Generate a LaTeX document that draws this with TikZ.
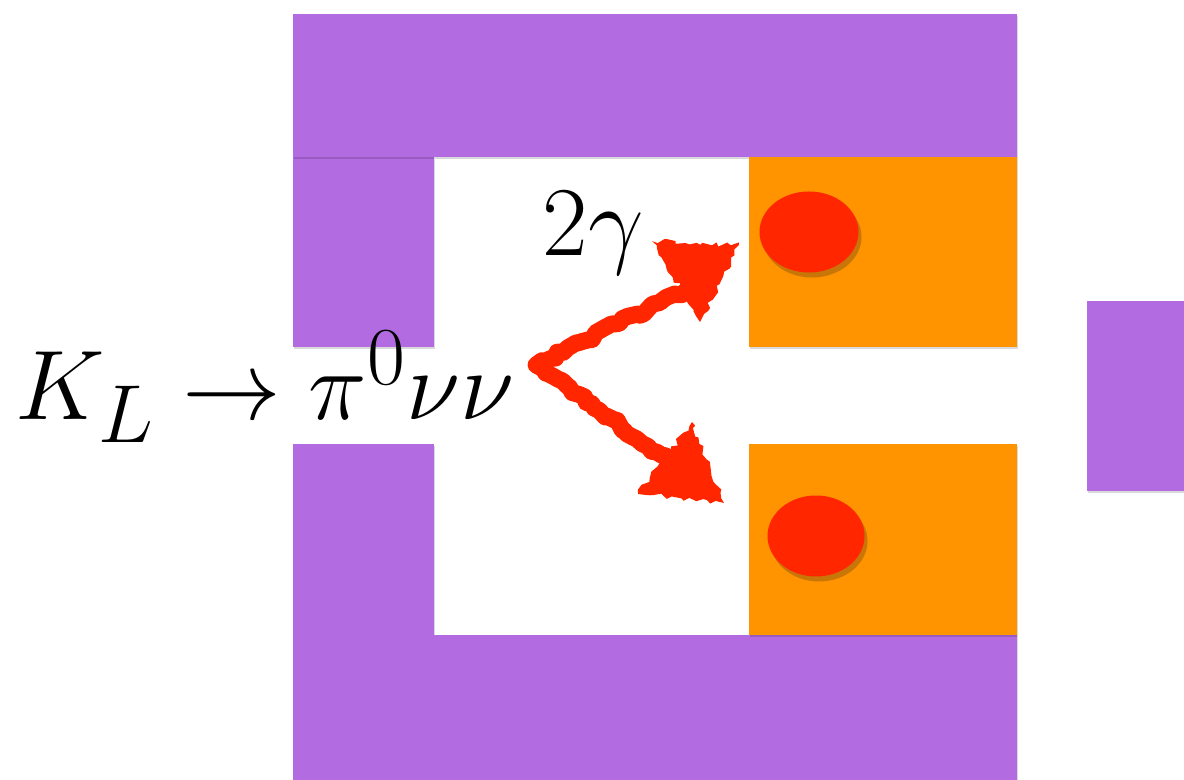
\documentclass[tikz,border=0pt]{standalone}
\usetikzlibrary{shadows,decorations.pathmorphing,shapes.geometric}
\definecolor{pur}{HTML}{B36BE2}
\definecolor{org}{HTML}{FF9300}
\definecolor{rd}{HTML}{FF2600}
\begin{document}
\begin{tikzpicture}[x=1cm,y=1cm,
  blk/.style={fill=#1, draw=none, drop shadow={shadow xshift=0.01cm, shadow yshift=-0.025cm, opacity=0.15, fill=black}},
  dot/.style={ellipse, fill=rd, draw=none, inner sep=0pt, drop shadow={shadow xshift=0.03cm, shadow yshift=-0.05cm, opacity=0.3, fill=black!60!brown}},
  rough/.style={decorate, decoration={random steps, segment length=1.5pt, amplitude=0.8pt}},
  lbl/.style={inner sep=0pt, font=\Huge}]
\useasboundingbox (0,0) rectangle (11.84,7.80);
% purple frame
\fill[blk=pur] (2.93,1.45) rectangle (4.34,3.36);
\fill[blk=pur] (2.93,4.33) rectangle (4.34,6.23);
\fill[blk=pur] (2.93,6.23) rectangle (10.17,7.66);
\fill[blk=pur] (2.93,0.00) rectangle (10.17,1.45);
% orange blocks
\fill[blk=org] (7.49,4.33) rectangle (10.17,6.23);
\fill[blk=org] (7.49,1.45) rectangle (10.17,3.36);
% right purple
\fill[blk=pur] (10.87,2.89) rectangle (11.90,4.79);
% red dots
\node[dot, minimum width=0.99cm, minimum height=0.81cm] (d1) at (8.09,5.48) {};
\node[dot, minimum width=0.97cm, minimum height=0.81cm] (d2) at (8.16,2.44) {};
% labels
\node[lbl, anchor=base west] (kl) at (0.15,3.60) {\scalebox{1.13}{$K_L\to\pi^0\nu\nu$}};
\node[lbl, anchor=base west] (gg) at (5.42,5.24) {\scalebox{1.13}{$2\gamma$}};
% chalky arrows
\coordinate (v) at (5.36,4.15);
\coordinate (u) at (6.92,4.93);
\coordinate (l) at (6.70,3.18);
\draw[rd, line width=0.17cm, line join=round, rough] (u) -- (v) -- (l);
\fill[rd, rough] (6.52,5.39) -- (7.39,5.35) -- (7.00,4.58) -- cycle;
\fill[rd, rough] (6.92,3.58) -- (6.38,2.86) -- (7.24,2.77) -- cycle;
\end{tikzpicture}
\end{document}
